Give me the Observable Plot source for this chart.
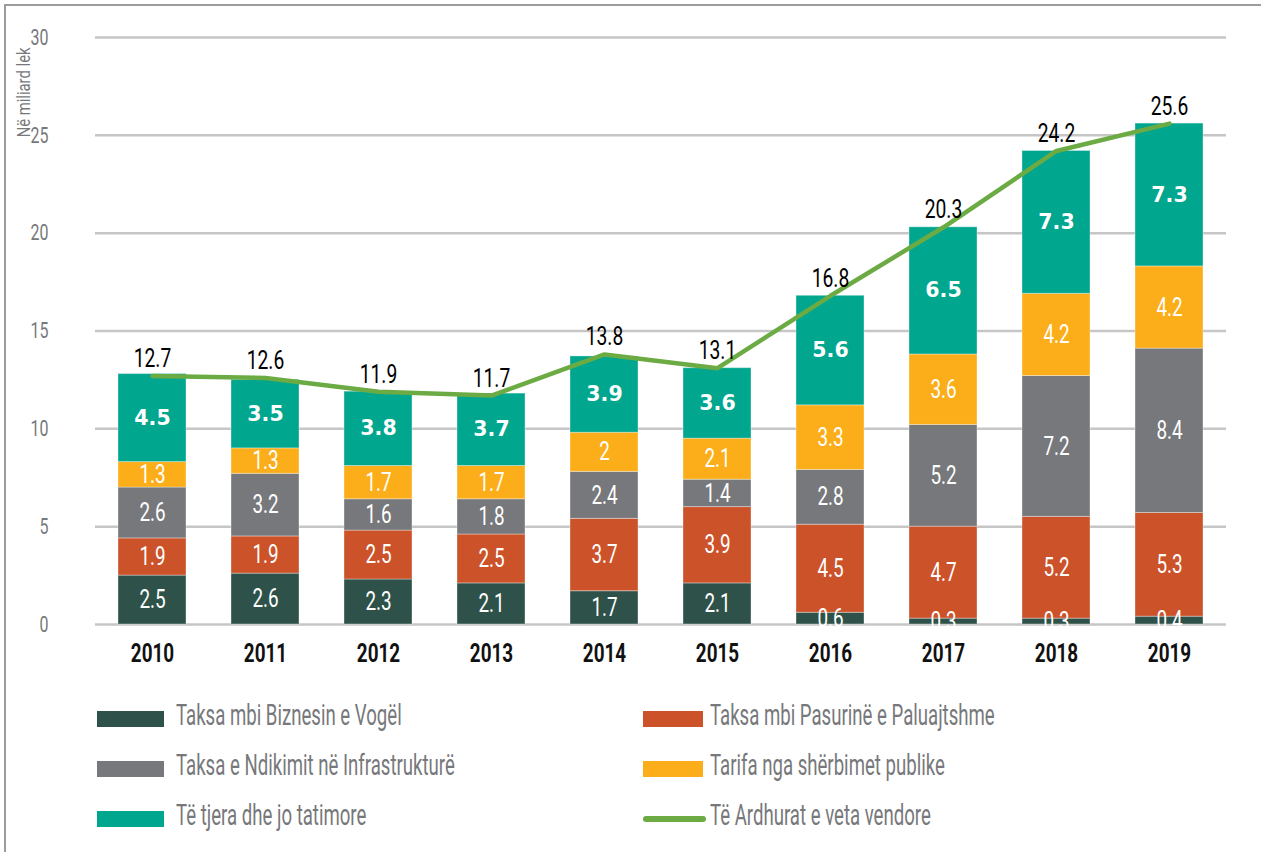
<!DOCTYPE html>
<html><head><meta charset="utf-8">
<script src="https://cdn.jsdelivr.net/npm/d3@7"></script>
<script src="https://cdn.jsdelivr.net/npm/@observablehq/plot@0.6"></script>
<style>
body{margin:0;background:#fff;width:1261px;height:852px;position:relative;overflow:hidden;font-family:Roboto,sans-serif;}
#frame{position:absolute;left:4px;top:4px;width:1300px;height:900px;border-top:2px solid #9c9c9c;border-left:2px solid #9c9c9c;pointer-events:none}
#chart{position:absolute;left:0;top:0}
.item{position:absolute;height:40px;white-space:nowrap}
.sw{position:absolute;top:12px;height:16px}
.ln{position:absolute;top:17px;height:6px;border-radius:3px}
.lab{position:absolute;top:-2px;line-height:36px;font-size:30px;color:#77787b;transform:scaleX(0.62);transform-origin:left center}
</style></head>
<body>
<div id="chart"></div>
<div id="legend"></div>
<div id="frame"></div>
<script>
const years = ["2010","2011","2012","2013","2014","2015","2016","2017","2018","2019"];
const seriesNames = ["Taksa mbi Biznesin e Vogël","Taksa mbi Pasurinë e Paluajtshme","Taksa e Ndikimit në Infrastrukturë","Tarifa nga shërbimet publike","Të tjera dhe jo tatimore"];
const seriesColors = ["#2e5249","#cc5229","#77787b","#fbae19","#00a68e"];
const biznesi   = [2.5, 2.6, 2.3, 2.1, 1.7, 2.1, 0.6, 0.3, 0.3, 0.4];
const pasuria   = [1.9, 1.9, 2.5, 2.5, 3.7, 3.9, 4.5, 4.7, 5.2, 5.3];
const ndikimi   = [2.6, 3.2, 1.6, 1.8, 2.4, 1.4, 2.8, 5.2, 7.2, 8.4];
const tarifa    = [1.3, 1.3, 1.7, 1.7, 2.0, 2.1, 3.3, 3.6, 4.2, 4.2];
const tjera     = [4.5, 3.5, 3.8, 3.7, 3.9, 3.6, 5.6, 6.5, 7.3, 7.3];
const totalName = "Të Ardhurat e veta vendore";
const totals    = [12.7, 12.6, 11.9, 11.7, 13.8, 13.1, 16.8, 20.3, 24.2, 25.6];
const lineColor = "#6cab43";
const yTicks = [0, 5, 10, 15, 20, 25, 30];
const yLabel = "Në miliard lek";

const seriesValues = [biznesi, pasuria, ndikimi, tarifa, tjera];
const rows = [];
seriesNames.forEach((s, k) => years.forEach((y, i) => rows.push({year: y, series: s, value: seriesValues[k][i]})));
const totRows = years.map((y, i) => ({year: y, total: totals[i]}));
const teal = seriesNames[4];
const stackOpts = {x: "year", y: "value", z: "series", order: seriesNames};

const plot = Plot.plot({
  width: 1261, height: 680,
  marginLeft: 95, marginRight: 35, marginTop: 37, marginBottom: 56,
  style: {fontFamily: "Roboto, sans-serif", background: "transparent"},
  x: {domain: years, paddingInner: 0.4, paddingOuter: 0.2, label: null},
  y: {domain: [0, 30], label: null},
  color: {domain: seriesNames, range: seriesColors},
  marks: [
    Plot.gridY(yTicks, {stroke: "#c6c6c6", strokeOpacity: 1, strokeWidth: 2.5}),
    Plot.axisY(yTicks, {tickSize: 0, tickPadding: 47, fontSize: 22.5, fill: "#77787b", label: null}),
    Plot.axisX({tickSize: 0, tickPadding: 19, fontSize: 25.5, fontWeight: "bold", fill: "#111", label: null}),
    Plot.barY(rows, Plot.stackY({...stackOpts, fill: "series", stroke: "#ffffff", strokeOpacity: 0.35, strokeWidth: 1})),
    Plot.text(rows, Plot.stackY({...stackOpts, text: d => d.series !== teal ? String(d.value) : null, fill: "white", fontSize: 25.5})),
    Plot.text(rows, Plot.stackY({...stackOpts, text: d => d.series === teal ? String(d.value) : null, fill: "white", fontSize: 20.5, fontWeight: "bold", fontFamily: '"DejaVu Sans",sans-serif'})),
    Plot.line(totRows, {x: "year", y: "total", stroke: lineColor, strokeWidth: 4.5}),
    Plot.text(totRows, {x: "year", y: "total", text: d => String(d.total), dy: -17, fill: "#000", fontSize: 25}),
    Plot.text([yLabel], {frameAnchor: "top-left", dx: -79, dy: 10, rotate: -90, textAnchor: "end", fill: "#77787b", fontSize: 19})
  ]
});
document.getElementById("chart").appendChild(plot);

// horizontal condensing of the narrow-font texts (keyed by font size of each text group)
const squeeze = {"22.5": 0.71, "25.5": 0.74, "25": 0.77, "19": 0.78};
plot.querySelectorAll("g[font-size]").forEach(g => {
  const k = squeeze[g.getAttribute("font-size")];
  if (!k) return;
  g.querySelectorAll("text").forEach(t => {
    const w = t.getComputedTextLength();
    if (w > 0) {
      t.setAttribute("textLength", (w * k).toFixed(2));
      t.setAttribute("lengthAdjust", "spacingAndGlyphs");
    }
  });
});

// legend
const legend = document.getElementById("legend");
const items = seriesNames.map((s, i) => ({name: s, color: seriesColors[i], type: "rect"}));
items.push({name: totalName, color: lineColor, type: "line"});
const cols = [{sx: 97, sw: 67, tx: 176}, {sx: 643, sw: 60, tx: 710}];
const rowCenters = [719, 769, 819];
items.forEach((it, i) => {
  const c = cols[i % 2], r = Math.floor(i / 2);
  const div = document.createElement("div");
  div.className = "item";
  div.style.left = "0px";
  div.style.top = (rowCenters[r] - 20) + "px";
  const sw = document.createElement("div");
  sw.className = it.type === "line" ? "ln" : "sw";
  sw.style.left = c.sx + "px";
  sw.style.width = (it.type === "line" ? 63 : c.sw) + "px";
  sw.style.background = it.color;
  const lab = document.createElement("span");
  lab.className = "lab";
  lab.style.left = c.tx + "px";
  lab.textContent = it.name;
  div.appendChild(sw); div.appendChild(lab);
  legend.appendChild(div);
});
</script>
</body></html>
